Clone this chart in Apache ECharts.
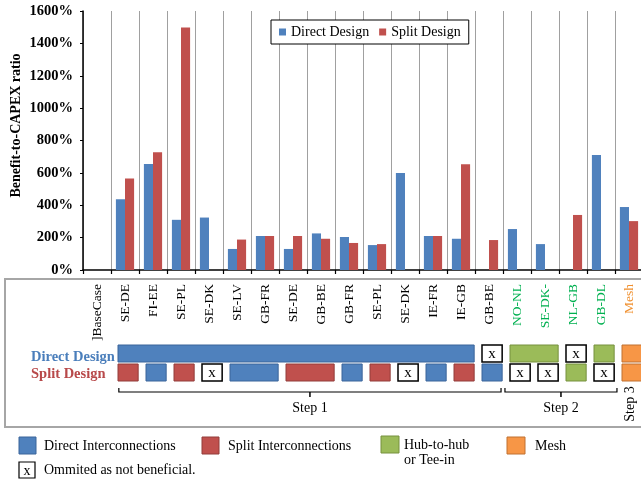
<!DOCTYPE html>
<html><head><meta charset="utf-8">
<script src="https://cdn.jsdelivr.net/npm/echarts@6/dist/echarts.min.js"></script>
<style>html,body{margin:0;padding:0;background:#fff}#c{width:641px;height:479px}</style>
</head><body><div id="c"></div>
<script>
const categories = [']BaseCase','SE-DE','FI-EE','SE-PL','SE-DK','SE-LV','GB-FR','SE-DE','GB-BE','GB-FR','SE-PL','SE-DK','IE-FR','IE-GB','GB-BE','NO-NL','SE-DK-','NL-GB','GB-DL','Mesh'];
const directDesign = [null,437,655,310,324,130,210,130,226,204,154,599,210,193,null,253,160,null,710,389];
const splitDesign  = [null,565,727,1498,null,188,210,210,193,167,160,null,210,654,185,null,null,340,null,302];
const yTicks = {min:0, max:1600, interval:200};
// scheme rows: [firstCategoryIndex, lastCategoryIndex, kind]
const directRow = [[1,13,'direct'],[14,14,'omit'],[15,16,'hub'],[17,17,'omit'],[18,18,'hub'],[19,19,'mesh']];
const splitRow = [[1,1,'split'],[2,2,'direct'],[3,3,'split'],[4,4,'omit'],[5,6,'direct'],[7,8,'split'],[9,9,'direct'],[10,10,'split'],[11,11,'omit'],[12,12,'direct'],[13,13,'split'],[14,14,'direct'],[15,15,'omit'],[16,16,'omit'],[17,17,'hub'],[18,18,'omit'],[19,19,'mesh']];
const steps = [[1,14,'Step 1'],[15,18,'Step 2'],[19,19,'Step 3']];
const labelGroups = {hub:[15,16,17,18], mesh:[19]};

const SERIF = '"Liberation Serif","Times New Roman",serif';
const kindStyle = {
  direct:{fill:'#4F81BD', stroke:'#3B659A'},
  split:{fill:'#C0504D', stroke:'#923D3A'},
  hub:{fill:'#9BBB59', stroke:'#76913F'},
  mesh:{fill:'#F79646', stroke:'#C07030'},
  omit:{fill:'#FFFFFF', stroke:'#000000'}
};
const schemeItems = directRow.map(r => [r[0], r[1], 0, r[2]]).concat(splitRow.map(r => [r[0], r[1], 1, r[2]]));

function boxItem(api, s, e, row, kind){
  const w = api.size([1,0])[0];
  const cs = api.coord([s,0]), ce = api.coord([e,0]);
  const x0 = cs[0] - w/2 + 0.25*w, x1 = ce[0] + w/2 - 0.03*w;
  const y0 = cs[1] + (row === 0 ? 75 : 94);
  const st = kindStyle[kind];
  const children = [{type:'rect', shape:{x:x0, y:y0, width:x1-x0, height:17},
    style:{fill:st.fill, stroke:st.stroke, lineWidth: kind==='omit'?1.5:1}}];
  if (kind === 'omit') children.push({type:'text', style:{text:'x', x:(x0+x1)/2, y:y0+9.5, align:'center', verticalAlign:'middle', font:'15px '+SERIF, fill:'#000'}});
  return {type:'group', children};
}

const chart = echarts.init(document.getElementById('c'), null, {renderer:'canvas'});
chart.setOption({
  animation:false,
  backgroundColor:'#fff',
  graphic:[
    {type:'rect', z:-1, shape:{x:5, y:279, width:645, height:148}, style:{fill:'none', stroke:'#A6A6A6', lineWidth:2}},
    {type:'text', style:{text:'Direct Design', x:31, y:357, verticalAlign:'middle', font:'bold 14.5px '+SERIF, fill:'#4A7EBB'}},
    {type:'text', style:{text:'Split Design', x:31, y:374, verticalAlign:'middle', font:'bold 14.5px '+SERIF, fill:'#B8494A'}},
    {type:'rect', shape:{x:19, y:437, width:17, height:17}, style:{fill:'#4F81BD', stroke:'#3B659A', lineWidth:1}},
    {type:'text', style:{text:'Direct Interconnections', x:44, y:446, verticalAlign:'middle', font:'14px '+SERIF, fill:'#000'}},
    {type:'rect', shape:{x:202, y:437, width:17, height:17}, style:{fill:'#C0504D', stroke:'#923D3A', lineWidth:1}},
    {type:'text', style:{text:'Split Interconnections', x:228, y:446, verticalAlign:'middle', font:'14px '+SERIF, fill:'#000'}},
    {type:'rect', shape:{x:381, y:436, width:18, height:17}, style:{fill:'#9BBB59', stroke:'#76913F', lineWidth:1}},
    {type:'text', style:{text:'Hub-to-hub', x:404, y:445, verticalAlign:'middle', font:'14px '+SERIF, fill:'#000'}},
    {type:'text', style:{text:'or Tee-in', x:404, y:460, verticalAlign:'middle', font:'14px '+SERIF, fill:'#000'}},
    {type:'rect', shape:{x:507, y:437, width:18, height:17}, style:{fill:'#F79646', stroke:'#C07030', lineWidth:1}},
    {type:'text', style:{text:'Mesh', x:535, y:446, verticalAlign:'middle', font:'14px '+SERIF, fill:'#000'}},
    {type:'rect', shape:{x:19, y:462, width:16, height:16}, style:{fill:'#fff', stroke:'#000', lineWidth:1.2}},
    {type:'text', style:{text:'x', x:27, y:471, align:'center', verticalAlign:'middle', font:'14px '+SERIF, fill:'#000'}},
    {type:'text', style:{text:'Ommited as not beneficial.', x:44, y:470, verticalAlign:'middle', font:'14px '+SERIF, fill:'#000'}}
  ],
  legend:{
    data:['Direct Design','Split Design'], left:271, top:20,
    backgroundColor:'#fff', borderColor:'#000', borderWidth:1, padding:[5,8],
    icon:'rect', itemWidth:7, itemHeight:7, itemGap:10,
    textStyle:{fontFamily:SERIF, fontSize:14, color:'#000'}
  },
  grid:{left:83, top:11, width:560, height:259, containLabel:false, outerBoundsMode:'none'},
  xAxis:{
    type:'category', data:categories,
    axisLine:{lineStyle:{color:'#000', width:1.5}},
    axisTick:{show:true, length:4, lineStyle:{color:'#000', width:1.2}},
    splitLine:{show:true, lineStyle:{color:'#A0A0A0', width:1}},
    axisLabel:{interval:0, rotate:90, margin:14, fontFamily:SERIF, fontSize:13.5,
      color:(v,i) => labelGroups.hub.includes(i) ? '#00B050' : (labelGroups.mesh.includes(i) ? '#F0902F' : '#000')}
  },
  yAxis:{
    type:'value', min:yTicks.min, max:yTicks.max, interval:yTicks.interval,
    name:'Benefit-to-CAPEX ratio', nameLocation:'middle', nameGap:60, nameMoveOverlap:false,
    nameTextStyle:{fontFamily:SERIF, fontSize:14, fontWeight:'bold', color:'#000', padding:[0,0,0,30]},
    axisLine:{show:true, lineStyle:{color:'#000', width:1.5}},
    axisTick:{show:true, length:3, lineStyle:{color:'#000'}},
    splitLine:{show:false},
    axisLabel:{formatter:v => v + '%', margin:10, fontFamily:SERIF, fontSize:14.5, fontWeight:'bold', color:'#000'}
  },
  series:[
    {name:'Direct Design', type:'bar', data:directDesign, barGap:'0%', barCategoryGap:'35%', itemStyle:{color:'#4F81BD'}},
    {name:'Split Design', type:'bar', data:splitDesign, barGap:'0%', barCategoryGap:'35%', itemStyle:{color:'#C0504D'}},
    {type:'custom', clip:false, silent:true, data:schemeItems.map(d => [d[0], d[1], d[2]]), encode:{x:[0,1]},
      renderItem:(params, api) => {
        const d = schemeItems[params.dataIndex];
        return boxItem(api, d[0], d[1], d[2], d[3]);
      }},
    {type:'custom', clip:false, silent:true, data:steps.map(d => [d[0], d[1]]), encode:{x:[0,1]},
      renderItem:(params, api) => {
        const st = steps[params.dataIndex];
        const w = api.size([1,0])[0];
        const cs = api.coord([st[0],0]), ce = api.coord([st[1],0]);
        const base = cs[1];
        if (st[0] === st[1]) {
          return {type:'text', x:cs[0]+1, y:base+134, rotation:Math.PI/2,
            style:{text:st[2], align:'center', verticalAlign:'middle', font:'14px '+SERIF, fill:'#000'}};
        }
        const padL = st[0] === 1 ? 0.28 : 0.07;
        const x0 = cs[0] - w/2 + padL*w, x1 = ce[0] + w/2 + (st[0] === 1 ? -0.07 : 0.07)*w;
        const yb = base + 122, xc = (x0+x1)/2;
        return {type:'group', children:[
          {type:'polyline', shape:{points:[[x0,yb-4],[x0,yb],[x1,yb],[x1,yb-4]]}, style:{stroke:'#000', lineWidth:1.2, fill:null}},
          {type:'line', shape:{x1:xc, y1:yb, x2:xc, y2:yb+5}, style:{stroke:'#000', lineWidth:1.5}},
          {type:'text', style:{text:st[2], x:xc, y:yb+16, align:'center', verticalAlign:'middle', font:'14px '+SERIF, fill:'#000'}}
        ]};
      }}
  ]
});
</script></body></html>
